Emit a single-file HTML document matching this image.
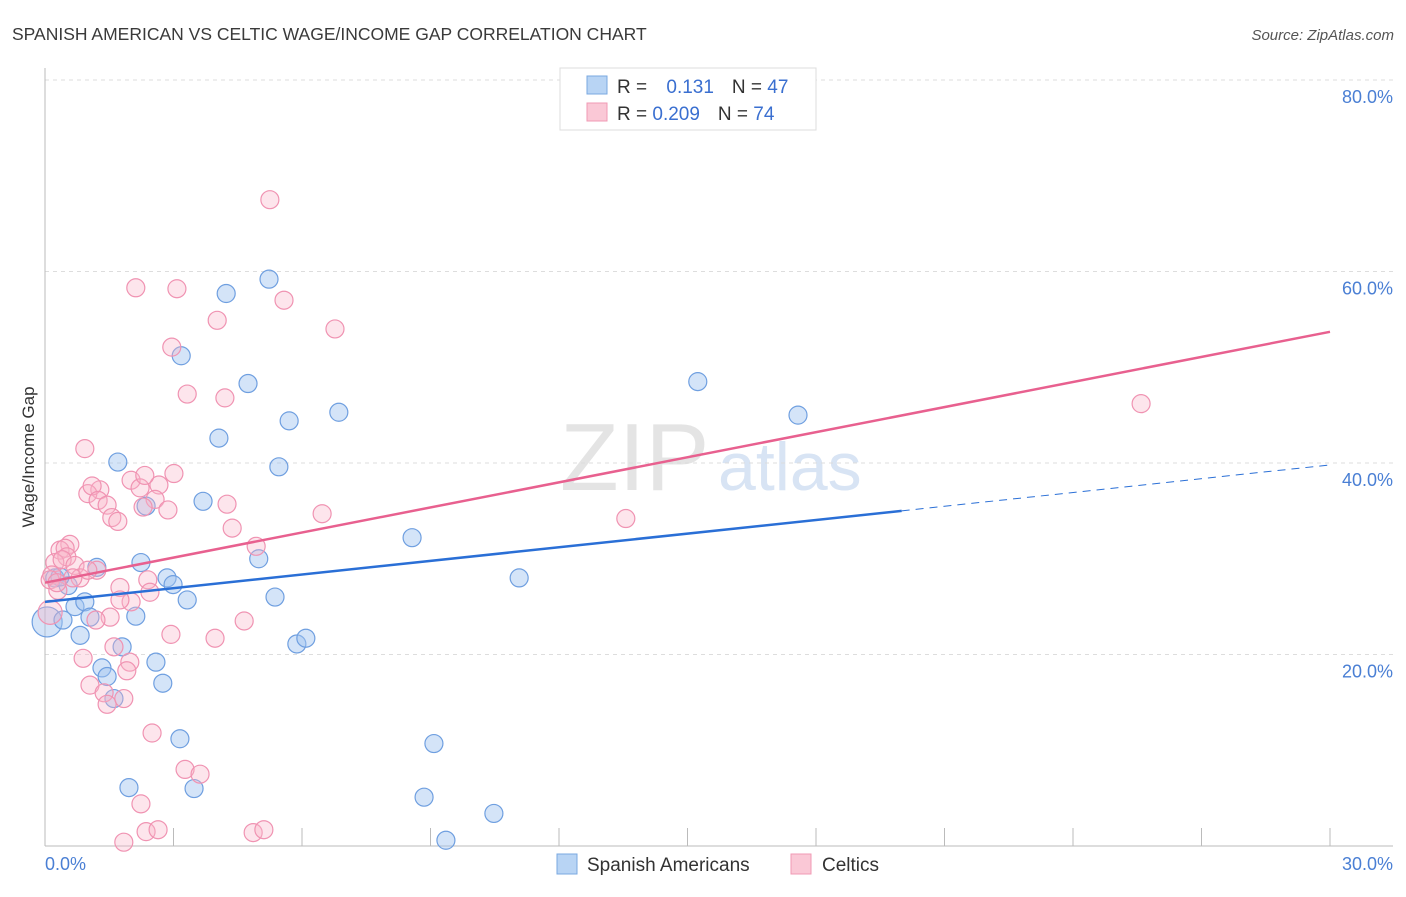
<!DOCTYPE html>
<html><head><meta charset="utf-8"><style>
body{margin:0;background:#fff;font-family:"Liberation Sans",sans-serif;}
svg text{font-family:"Liberation Sans",sans-serif;}
</style></head><body>
<svg width="1406" height="892">
<text x="12" y="40" font-size="17.5" fill="#3a3a3a">SPANISH AMERICAN VS CELTIC WAGE/INCOME GAP CORRELATION CHART</text>
<text x="1394" y="40" font-size="15" fill="#555" font-style="italic" text-anchor="end">Source: ZipAtlas.com</text>
<text x="560" y="490" font-size="96" fill="#e4e4e4" font-family="Liberation Serif">ZIP</text>
<text x="718" y="490" font-size="68" fill="#d8e4f4">atlas</text>
<g id="grid"></g>
<line x1="45" y1="68" x2="45" y2="846" stroke="#bbb"/>
<line x1="45" y1="846" x2="1393" y2="846" stroke="#bbb"/>
<text x="34" y="457" font-size="17" fill="#333" text-anchor="middle" transform="rotate(-90 34 457)">Wage/Income Gap</text>
<text x="45" y="870" font-size="18" fill="#4a7fd4">0.0%</text>
<text x="1393" y="870" font-size="18" fill="#4a7fd4" text-anchor="end">30.0%</text>
<g id="pts"></g>
<g id="lines"></g>
<rect x="560" y="68" width="256" height="62" fill="#fff" stroke="#ddd"/>
<rect x="587" y="76" width="20" height="18" fill="#b8d4f4" stroke="#7aa8e0"/>
<text x="617" y="93" font-size="19" fill="#333">R = <tspan fill="#3a6fd0" dx="14">0.131</tspan><tspan dx="18">N = </tspan><tspan fill="#3a6fd0">47</tspan></text>
<rect x="587" y="103" width="20" height="18" fill="#fac8d6" stroke="#f09ab4"/>
<text x="617" y="120" font-size="19" fill="#333">R = <tspan fill="#3a6fd0">0.209</tspan><tspan dx="18">N = </tspan><tspan fill="#3a6fd0">74</tspan></text>
<rect x="557" y="854" width="20" height="20" fill="#b8d4f4" stroke="#7aa8e0"/>
<text x="587" y="871" font-size="19" fill="#333">Spanish Americans</text>
<rect x="791" y="854" width="20" height="20" fill="#fac8d6" stroke="#f09ab4"/>
<text x="822" y="871" font-size="19" fill="#333">Celtics</text>
</svg>
<script>
const yTicks=[20,40,60,80];
const xTicks=[0,3,6,9,12,15,18,21,24,27,30];
const blueX=[0.05,0.23,0.54,0.70,0.93,0.82,0.42,1.21,1.05,1.33,1.45,1.61,1.70,1.80,2.12,2.24,1.96,2.36,2.59,2.75,2.85,2.99,3.15,3.32,3.48,3.18,3.69,4.06,4.23,4.74,4.99,5.23,5.37,5.46,5.70,5.88,6.09,6.86,8.57,8.85,9.08,9.36,10.48,11.07,15.24,17.58,0.35];
const blueY=[23.4,28.0,27.2,25.0,25.5,22.0,23.6,29.1,23.9,18.6,17.7,15.4,40.1,20.8,24.0,29.6,6.1,35.5,19.2,17.0,28.0,27.3,11.2,25.7,6.0,51.2,36.0,42.6,57.7,48.3,30.0,59.2,26.0,39.6,44.4,21.1,21.7,45.3,32.2,5.1,10.7,0.6,3.4,28.0,48.5,45.0,28.1];
const pinkX=[5.25,2.12,3.08,5.58,4.02,6.77,2.96,25.59,3.32,4.20,0.93,3.01,2.01,1.28,2.66,1.00,1.10,2.22,1.24,1.45,2.57,2.87,2.29,4.25,1.56,6.47,13.56,4.37,0.58,0.35,0.47,4.93,0.51,0.23,0.40,0.70,0.16,1.21,0.82,0.12,2.40,2.45,1.75,2.01,1.52,2.94,3.97,1.19,4.65,1.61,0.89,1.98,1.91,1.05,1.38,1.45,1.84,2.50,3.27,3.62,2.24,2.36,2.64,1.84,4.86,5.11,0.12,0.30,1.75,0.65,1.00,2.33,1.70,0.28];
const pinkY=[67.5,58.3,58.2,57.0,54.9,54.0,52.1,46.2,47.2,46.8,41.5,38.9,38.2,37.2,37.7,36.8,37.6,37.4,36.1,35.6,36.2,35.1,35.4,35.7,34.3,34.7,34.2,33.2,31.5,30.9,31.1,31.3,30.2,29.6,29.9,29.3,28.3,28.8,28.0,27.8,27.8,26.5,27.0,25.5,23.9,22.1,21.7,23.6,23.5,20.8,19.6,19.2,18.3,16.8,16.0,14.8,15.4,11.8,8.0,7.5,4.4,1.5,1.7,0.4,1.4,1.7,24.4,26.7,25.7,28.0,28.8,38.7,33.9,27.5];
const blueTrend=[25.5,35.0,39.8];
const blueTrendX=[0,20,30];
const pinkTrend=[27.5,53.7];
const pinkTrendX=[0,30];
const NS="http://www.w3.org/2000/svg";
const sx=v=>45+v*(1285/30);
const sy=v=>846-v*(191.5/20);
function mk(t,a,p){const e=document.createElementNS(NS,t);for(const k in a)e.setAttribute(k,a[k]);document.getElementById(p).appendChild(e);return e;}
yTicks.forEach(v=>{
 const l=mk('line',{x1:45,x2:1393,y1:sy(v),y2:sy(v),stroke:'#ddd','stroke-dasharray':'4,4'},'grid');
 
 
 const t=mk('text',{x:1393,y:sy(v)+23,'font-size':18,fill:'#4a7fd4','text-anchor':'end'},'grid');
 t.textContent=v.toFixed(1)+'%';
 
 
});
xTicks.forEach(v=>{
 const l=mk('line',{x1:sx(v),x2:sx(v),y1:828,y2:846,stroke:'#bbb'},'grid');
 
 
});
blueX.forEach((x,i)=>{
 const c=mk('circle',{cx:sx(x),cy:sy(blueY[i]),r:i==0?15:9,fill:'rgba(160,196,240,0.45)',stroke:'#6f9fe0','stroke-width':1.2},'pts');
 
 
});
pinkX.forEach((x,i)=>{
 const c=mk('circle',{cx:sx(x),cy:sy(pinkY[i]),r:i==66?12:9,fill:'rgba(248,180,200,0.35)',stroke:'#f093b2','stroke-width':1.2},'pts');
 
 
});
const b1=mk('line',{x1:sx(blueTrendX[0]),y1:sy(blueTrend[0]),x2:sx(blueTrendX[1]),y2:sy(blueTrend[1]),stroke:'#2a6fd6','stroke-width':2.5},'lines');


const b2=mk('line',{x1:sx(blueTrendX[1]),y1:sy(blueTrend[1]),x2:sx(blueTrendX[2]),y2:sy(blueTrend[2]),stroke:'#2a6fd6','stroke-width':1,'stroke-dasharray':'8,6'},'lines');


const p1=mk('line',{x1:sx(pinkTrendX[0]),y1:sy(pinkTrend[0]),x2:sx(pinkTrendX[1]),y2:sy(pinkTrend[1]),stroke:'#e8608f','stroke-width':2.5},'lines');


</script>
</body></html>
